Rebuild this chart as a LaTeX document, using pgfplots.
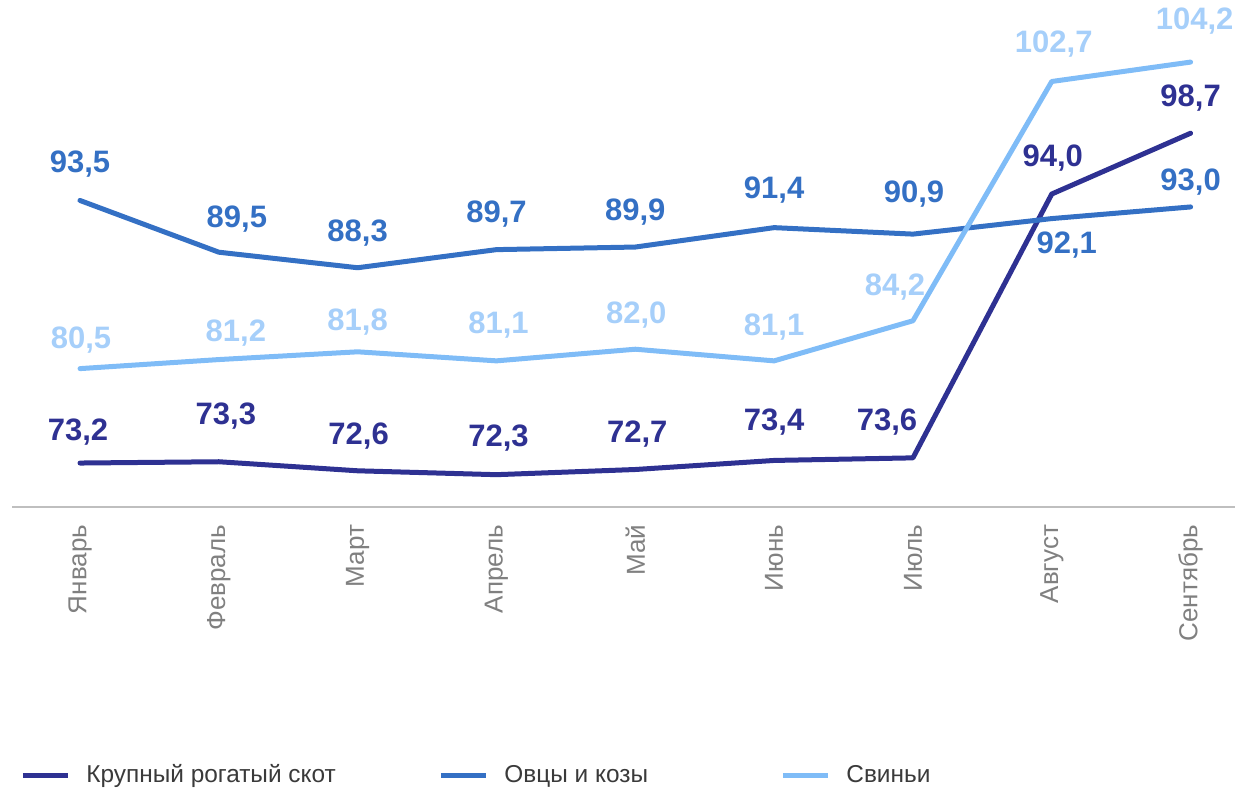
\documentclass[border=0pt]{standalone}
\usepackage{fontspec}
\setmainfont{Liberation Sans}
\usepackage{pgfplots}
\pgfplotsset{compat=1.18}
\usepackage{pgfplotstable}

\definecolor{krs}{HTML}{2E3192}
\definecolor{ovc}{HTML}{3470C4}
\definecolor{svn}{HTML}{7FBCF7}
\definecolor{svnlbl}{HTML}{A6CFFA}
\definecolor{tickgray}{HTML}{808080}
\definecolor{axisgray}{HTML}{BFBFBF}
\definecolor{legtext}{HTML}{3A3A3A}

% x = month index, y = value, dx/dy = label offset in px
\pgfplotstableread{
x y dx dy
0 73.2 -2 31
1 73.3 7 46
2 72.6 1 35
3 72.3 2 37
4 72.7 2 35
5 73.4 0 38
6 73.6 -26 36
7 94.0 1 36
8 98.7 0 35
}\krs
\pgfplotstableread{
x y dx dy
0 93.5 0 36
1 89.5 18 33
2 88.3 0 35
3 89.7 0 36
4 89.9 0 35
5 91.4 0 38
6 90.9 1 40
7 92.1 15 -26
8 93.0 0 25
}\ovc
\pgfplotstableread{
x y dx dy
0 80.5 1 29
1 81.2 17 26
2 81.8 0 30
3 81.1 2 36
4 82.0 1 34
5 81.1 0 34
6 84.2 -18 34
7 102.7 2 37
8 104.2 4 41
}\svn

\pgfplotsset{
  lbl/.style={
    nodes near coords={\pgfmathprintnumber[fixed,fixed zerofill,precision=1,use comma,assume math mode=true]{\pgfplotspointmeta}},
    point meta=y,
    visualization depends on={\thisrow{dx} \as \dx},
    visualization depends on={\thisrow{dy} \as \dy},
    every node near coord/.append style={
      font=\fontsize{15.5}{18}\selectfont\bfseries,
      text=#1, anchor=center, inner sep=0pt,
      xshift=0.5pt*\dx, yshift=0.5pt*\dy},
  },
}

\begin{document}
\begin{tikzpicture}
\begin{axis}[
    scale only axis,
    width=611.5pt, height=253.5pt,
    xmin=-0.49, xmax=8.32,
    ymin=69.8, ymax=109,
    clip=false,
    hide y axis,
    axis x line*=bottom,
    x axis line style={-, draw=axisgray, line width=1pt},
    xtick={0,...,8},
    xticklabels={Январь,Февраль,Март,Апрель,Май,Июнь,Июль,Август,Сентябрь},
    xtick style={draw=none},
    major tick length=0pt,
    x tick label style={rotate=90, anchor=east, inner sep=8.75pt,
      font=\fontsize{13}{15}\selectfont, text=tickgray},
    ytick=\empty,
    legend style={at={(axis description cs:0.00654,-0.5286)}, anchor=west,
      draw=none, fill=none, inner sep=0pt, legend columns=-1,
      column sep=0pt, nodes={inner sep=0pt},
      font=\fontsize{12.2}{14}\selectfont, text=legtext},
    legend cell align=left,
    legend image code/.code={\draw[#1, line cap=butt] (0pt,0pt) -- (22.5pt,0pt);},
    every axis plot/.append style={line width=2.5pt, line join=round, line cap=round, no markers},
  ]
  \addplot[krs, lbl=krs] table[x=x, y=y] {\krs};
  \addlegendentry{\hspace*{8pt}\makebox[176pt][l]{Крупный рогатый скот}}
  \addplot[ovc, lbl=ovc] table[x=x, y=y] {\ovc};
  \addlegendentry{\hspace*{8pt}\makebox[138pt][l]{Овцы и козы}}
  \addplot[svn, lbl=svnlbl] table[x=x, y=y] {\svn};
  \addlegendentry{\hspace*{8pt}Свиньи}
\end{axis}
\pgfresetboundingbox
\path (-6pt,-141pt) rectangle (611.5pt,253.5pt);
\end{tikzpicture}
\end{document}
